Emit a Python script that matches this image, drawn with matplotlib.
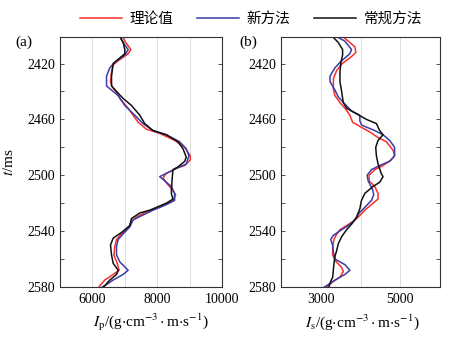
import matplotlib
matplotlib.use("Agg")
import matplotlib.pyplot as plt
from matplotlib.lines import Line2D

plt.rcParams["font.family"] = ["Liberation Serif", "Noto Sans CJK SC", "DejaVu Sans"]
plt.rcParams["mathtext.fontset"] = "stix"

# ---- P-impedance panel (a) ----
ip_true_t = [2400, 2404, 2410, 2413, 2418, 2421, 2426, 2433, 2437, 2442, 2445, 2452, 2462, 2467,
             2470, 2475, 2480, 2486, 2489, 2493, 2495, 2499, 2502, 2506, 2511, 2514, 2518, 2523,
             2526, 2530, 2533, 2538, 2542, 2546, 2551, 2557, 2563, 2568, 2571, 2575, 2579, 2581]
ip_true = [6928, 7000, 7185, 7103, 6795, 6641, 6590, 6559, 6620, 6795, 6846, 7103, 7410, 7667,
           8077, 8538, 8846, 9020, 9020, 8846, 8590, 8262, 8180, 8303, 8487, 8569, 8487, 8077,
           7667, 7359, 7205, 7103, 6897, 6744, 6692, 6662, 6764, 6826, 6641, 6385, 6231, 6180]

ip_new_t = [2400, 2405, 2410, 2414, 2419, 2423, 2429, 2436, 2439, 2443, 2450, 2457, 2463, 2468,
            2471, 2476, 2481, 2486, 2492, 2494, 2498, 2501, 2504, 2508, 2513, 2518, 2521, 2525,
            2529, 2532, 2537, 2542, 2546, 2551, 2557, 2562, 2568, 2571, 2575, 2579, 2581]
ip_new = [6846, 6949, 7103, 7000, 6692, 6538, 6436, 6436, 6590, 6795, 7000, 7308, 7564, 7872,
          8282, 8692, 8897, 8979, 8897, 8692, 8333, 8077, 8231, 8436, 8538, 8538, 8282, 7872,
          7513, 7256, 7154, 6949, 6795, 6744, 6744, 6846, 7103, 6949, 6641, 6385, 6231]

ip_conv_t = [2400, 2405, 2410, 2413, 2417, 2420, 2429, 2436, 2440, 2445, 2450, 2457, 2463, 2468,
             2471, 2476, 2481, 2487, 2490, 2494, 2496, 2501, 2508, 2513, 2517, 2520, 2525, 2527,
             2531, 2536, 2541, 2545, 2550, 2557, 2563, 2568, 2571, 2575, 2579, 2581]
ip_conv = [6826, 6949, 7000, 7000, 6795, 6641, 6590, 6590, 6744, 6949, 7205, 7462, 7615, 7872,
           8282, 8641, 8795, 8897, 8850, 8641, 8487, 8467, 8446, 8436, 8487, 8282, 7769, 7462,
           7205, 7154, 6897, 6641, 6559, 6590, 6641, 6795, 6744, 6538, 6385, 6282]

# ---- S-impedance panel (b) ----
is_true_t = [2400, 2404, 2408, 2412, 2415, 2420, 2425, 2431, 2438, 2443, 2448, 2452, 2457, 2462,
             2465, 2469, 2473, 2476, 2482, 2486, 2489, 2493, 2496, 2500, 2504, 2508, 2513, 2517,
             2520, 2525, 2530, 2533, 2536, 2539, 2543, 2546, 2551, 2557, 2561, 2566, 2569, 2573,
             2576, 2580]
is_true = [3525, 3692, 3858, 3883, 3775, 3540, 3400, 3317, 3317, 3358, 3483, 3608, 3733, 3800,
           3983, 4233, 4442, 4650, 4817, 4858, 4775, 4567, 4358, 4217, 4217, 4358, 4442, 4442,
           4317, 4108, 3942, 3817, 3650, 3483, 3383, 3333, 3300, 3300, 3358, 3525, 3567, 3483,
           3317, 3150]

is_new_t = [2400, 2404, 2410, 2413, 2418, 2423, 2429, 2433, 2439, 2444, 2449, 2454, 2457, 2461,
            2464, 2468, 2471, 2475, 2480, 2486, 2490, 2493, 2496, 2500, 2504, 2510, 2514, 2518,
            2523, 2527, 2532, 2536, 2539, 2543, 2546, 2550, 2555, 2560, 2564, 2568, 2571, 2575,
            2579, 2581]
is_new = [3358, 3608, 3775, 3733, 3525, 3358, 3233, 3233, 3358, 3442, 3608, 3775, 3983, 3983,
          4025, 4358, 4567, 4733, 4858, 4858, 4733, 4483, 4275, 4167, 4192, 4300, 4333, 4275,
          4108, 3967, 3858, 3692, 3525, 3317, 3250, 3300, 3317, 3358, 3608, 3733, 3608, 3358,
          3150, 3025]

is_conv_t = [2400, 2405, 2410, 2414, 2419, 2426, 2433, 2440, 2448, 2452, 2456, 2460, 2463, 2468,
             2471, 2475, 2480, 2486, 2492, 2494, 2499, 2501, 2505, 2508, 2513, 2518, 2524, 2530,
             2535, 2539, 2544, 2549, 2554, 2558, 2563, 2568, 2573, 2576, 2581]
is_conv = [3275, 3442, 3550, 3550, 3508, 3483, 3483, 3525, 3567, 3650, 3900, 4150, 4400, 4483,
           4567, 4442, 4383, 4400, 4442, 4467, 4525, 4567, 4483, 4317, 4108, 4025, 3983, 3900,
           3775, 3650, 3525, 3442, 3400, 3358, 3333, 3317, 3300, 3250, 3192]

series_names = ["理论值", "新方法", "常规方法"]
series_colors = ["#f5302a", "#3c3ca8", "#111111"]

ip_grid = [6000, 7000, 8000, 9000, 10000]
ip_labels = ["6000", "", "8000", "", "10000"]
is_grid = [3000, 4000, 5000]
is_labels = ["3000", "", "5000"]
t_major = [2420, 2460, 2500, 2540, 2580]
t_minor = [2440, 2480, 2520, 2560]

W, H = 457, 339
fig = plt.figure(figsize=(W / 100, H / 100), dpi=100)

ax_a = fig.add_axes([60 / W, 1 - 287 / H, 162 / W, 250 / H])
ax_b = fig.add_axes([281 / W, 1 - 287 / H, 159 / W, 250 / H])

panels = [
    (ax_a, [(ip_true_t, ip_true), (ip_new_t, ip_new), (ip_conv_t, ip_conv)],
     (5000, 10000), ip_grid, ip_labels,
     r"$I_\mathrm{p}$/(g$\cdot$cm$^{-3}\cdot$m$\cdot$s$^{-1}$)", 0.56),
    (ax_b, [(is_true_t, is_true), (is_new_t, is_new), (is_conv_t, is_conv)],
     (2000, 6000), is_grid, is_labels,
     r"$I_\mathrm{s}$/(g$\cdot$cm$^{-3}\cdot$m$\cdot$s$^{-1}$)", 0.51),
]

for ax, curves, xlim, grid, labels, xlabel, lx in panels:
    for (tt, vv), c in zip(curves, series_colors):
        ax.plot(vv, tt, color=c, lw=1.1)
    ax.set_xlim(*xlim)
    ax.set_ylim(2580, 2401)
    ax.set_xticks(grid)
    ax.set_xticklabels(labels)
    ax.set_yticks(t_major)
    ax.set_yticks(t_minor, minor=True)
    ax.grid(axis="x", color="#d8d8d8", lw=0.6)
    ax.tick_params(axis="both", which="both", direction="in", labelsize=10,
                   right=True, top=False, length=3, width=0.6, color="#333333")
    ax.tick_params(axis="x", length=0, pad=4)
    for s in ax.spines.values():
        s.set_color("#333333")
        s.set_linewidth(0.8)
    ax.set_xlabel(xlabel, fontsize=11, labelpad=2)
    ax.xaxis.set_label_coords(lx, -0.1)

ax_a.set_ylabel(r"$t$/ms", fontsize=11)
ax_a.yaxis.set_label_coords(-0.27, 0.5)

fig.text(15 / W, 1 - 42 / H, "(a)", fontsize=11, va="center", ha="left")
fig.text(239 / W, 1 - 42 / H, "(b)", fontsize=11, va="center", ha="left")

handles = [Line2D([], [], color=c, lw=1.1) for c in series_colors]
fig.legend(handles, series_names, loc="center", bbox_to_anchor=(251 / W, 1 - 19 / H),
           ncol=3, frameon=False, handlelength=2.9, handletextpad=0.5,
           columnspacing=1.6, prop={"family": ["Noto Sans CJK SC"], "size": 10.5})

fig.savefig("out.png", dpi=100)
